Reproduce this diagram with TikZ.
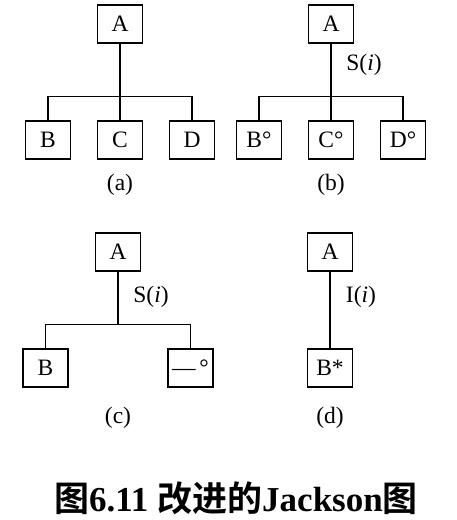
\documentclass[tikz,border=0pt]{standalone}
\usepackage{fontspec}
\setmainfont{Liberation Serif}
\newfontfamily\cjk{Noto Sans CJK SC}[BoldFont={* Bold}]
\begin{document}
\begin{tikzpicture}[x=1pt,y=-1pt,line width=1.2pt,
				every node/.style={font=\fontsize{23.5}{27}\selectfont},
				box/.style={rectangle,draw,minimum width=45pt,minimum height=38pt,inner sep=0pt},
				level distance=116pt,
				sibling distance=72pt,
				edge from parent path={(\tikzparentnode.south) -- +(0,53) -| (\tikzchildnode.north)}]
\useasboundingbox (0,0) rectangle (456,520);
% (a)
\node[box] (aA) at (120,24) {A}
child { node[box] (aB) {B} }
child { node[box] (aC) {C} }
child { node[box] (aD) {D} };
\node (acap) at (120,185) {(a)};
% (b)
\node[box] (bA) at (331,24) {A}
child { node[box] (bB) {B°} }
child { node[box] (bC) {C°} }
child { node[box] (bD) {D°} };
\node (bS) at (364,65) {S(\textit{i})};
\node (bcap) at (331,185) {(b)};
% (c)
\node[box] (cA) at (118,252) {A} [sibling distance=145pt]
child { node[box] (cB) {B} }
child { node[box] (cE) {—\,°} };
\node (cS) at (151,297) {S(\textit{i})};
\node (ccap) at (118,418) {(c)};
% (d)
\node[box] (dA) at (330,252) {A}
child { node[box] (dB) {B*} };
\node (dI) at (361,297) {I(\textit{i})};
\node (dcap) at (330,418) {(d)};
% caption
\node (cap) at (236,498) {\fontsize{35}{40}\selectfont\bfseries{\cjk 图}6.11 {\cjk 改进的}Jackson{\cjk 图}};
\end{tikzpicture}
\end{document}
